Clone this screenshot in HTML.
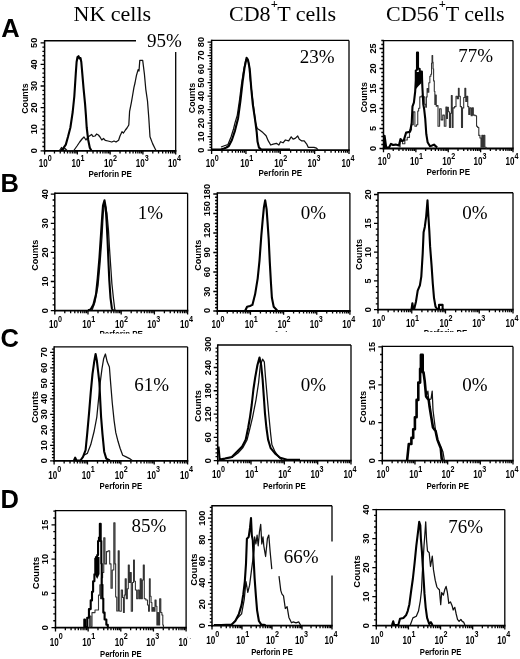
<!DOCTYPE html>
<html><head><meta charset="utf-8"><title>Figure</title>
<style>html,body{margin:0;padding:0;background:#fff;}svg{display:block;will-change:transform;}</style>
</head><body>
<svg width="520" height="659" viewBox="0 0 520 659">
<rect width="520" height="659" fill="#fff"/>
<text x="73.5" y="20.8" font-family="Liberation Serif" font-size="22">NK cells</text>
<text x="229.0" y="20.8" font-family="Liberation Serif" font-size="22">CD8<tspan font-size="12.5" font-weight="bold" dy="-12.5" dx="0.3">+</tspan><tspan dy="12.5" dx="-0.8">T cells</tspan></text>
<text x="386.0" y="20.8" font-family="Liberation Serif" font-size="22">CD56<tspan font-size="12.5" font-weight="bold" dy="-12.5" dx="0.3">+</tspan><tspan dy="12.5" dx="-0.3">T cells</tspan></text>
<text x="1.2" y="36.9" font-family="Liberation Sans" font-weight="bold" font-size="25.5">A</text>
<text x="0.4" y="191.9" font-family="Liberation Sans" font-weight="bold" font-size="25.5">B</text>
<text x="0.5" y="346.6" font-family="Liberation Sans" font-weight="bold" font-size="25.5">C</text>
<text x="0.5" y="507.8" font-family="Liberation Sans" font-weight="bold" font-size="25.5">D</text>
<line x1="44.6" y1="40.8" x2="136" y2="40.8" stroke="#000" stroke-width="1.4"/>
<line x1="175.7" y1="51.9" x2="175.7" y2="150.8" stroke="#000" stroke-width="1.3"/>
<line x1="44.6" y1="40.1" x2="44.6" y2="151.8" stroke="#000" stroke-width="1.5"/>
<line x1="43.8" y1="150.8" x2="176.4" y2="150.8" stroke="#000" stroke-width="1.8"/>
<path d="M40.6 150.8H44.6M42.4 146.48H44.6M42.4 142.16H44.6M42.4 137.84H44.6M42.4 133.52H44.6M40.6 129.2H44.6M42.4 124.88H44.6M42.4 120.56H44.6M42.4 116.24H44.6M42.4 111.92H44.6M40.6 107.6H44.6M42.4 103.28H44.6M42.4 98.96H44.6M42.4 94.64H44.6M42.4 90.32H44.6M40.6 86H44.6M42.4 81.68H44.6M42.4 77.36H44.6M42.4 73.04H44.6M42.4 68.72H44.6M40.6 64.4H44.6M42.4 60.08H44.6M42.4 55.76H44.6M42.4 51.44H44.6M42.4 47.12H44.6M40.6 42.8H44.6" stroke="#000" stroke-width="1.3" fill="none"/>
<text transform="translate(37.4,150.8) rotate(-90)" text-anchor="middle" font-family="Liberation Sans" font-weight="bold" font-size="9.2">0</text>
<text transform="translate(37.4,129.2) rotate(-90)" text-anchor="middle" font-family="Liberation Sans" font-weight="bold" font-size="9.2">10</text>
<text transform="translate(37.4,107.6) rotate(-90)" text-anchor="middle" font-family="Liberation Sans" font-weight="bold" font-size="9.2">20</text>
<text transform="translate(37.4,86) rotate(-90)" text-anchor="middle" font-family="Liberation Sans" font-weight="bold" font-size="9.2">30</text>
<text transform="translate(37.4,64.4) rotate(-90)" text-anchor="middle" font-family="Liberation Sans" font-weight="bold" font-size="9.2">40</text>
<text transform="translate(37.4,42.8) rotate(-90)" text-anchor="middle" font-family="Liberation Sans" font-weight="bold" font-size="9.2">50</text>
<text transform="translate(28.2,98.6) rotate(-90)" text-anchor="middle" font-family="Liberation Sans" font-weight="bold" font-size="9.4" textLength="30.4" lengthAdjust="spacingAndGlyphs">Counts</text>
<path d="M44.6 150.8V154.6M54.47 150.8V153.4M60.24 150.8V153.4M64.33 150.8V153.4M67.51 150.8V153.4M70.1 150.8V153.4M72.3 150.8V153.4M74.2 150.8V153.4M75.88 150.8V153.4M77.38 150.8V154.6M87.24 150.8V153.4M93.01 150.8V153.4M97.11 150.8V153.4M100.28 150.8V153.4M102.88 150.8V153.4M105.07 150.8V153.4M106.97 150.8V153.4M108.65 150.8V153.4M110.15 150.8V154.6M120.02 150.8V153.4M125.79 150.8V153.4M129.88 150.8V153.4M133.06 150.8V153.4M135.65 150.8V153.4M137.85 150.8V153.4M139.75 150.8V153.4M141.43 150.8V153.4M142.92 150.8V154.6M152.79 150.8V153.4M158.56 150.8V153.4M162.66 150.8V153.4M165.83 150.8V153.4M168.43 150.8V153.4M170.62 150.8V153.4M172.52 150.8V153.4M174.2 150.8V153.4M175.7 150.8V154.6" stroke="#000" stroke-width="1.3" fill="none"/>
<text x="47.8" y="167.4" text-anchor="end" font-family="Liberation Sans" font-weight="bold" font-size="10.2" textLength="9.0" lengthAdjust="spacingAndGlyphs">10</text>
<text x="47.8" y="161.4" font-family="Liberation Sans" font-weight="bold" font-size="8.2" textLength="4.0" lengthAdjust="spacingAndGlyphs">0</text>
<text x="80.58" y="167.4" text-anchor="end" font-family="Liberation Sans" font-weight="bold" font-size="10.2" textLength="9.0" lengthAdjust="spacingAndGlyphs">10</text>
<text x="80.58" y="161.4" font-family="Liberation Sans" font-weight="bold" font-size="8.2" textLength="4.0" lengthAdjust="spacingAndGlyphs">1</text>
<text x="113.05" y="167.4" text-anchor="end" font-family="Liberation Sans" font-weight="bold" font-size="10.2" textLength="9.0" lengthAdjust="spacingAndGlyphs">10</text>
<text x="113.05" y="161.4" font-family="Liberation Sans" font-weight="bold" font-size="8.2" textLength="4.0" lengthAdjust="spacingAndGlyphs">2</text>
<text x="144.82" y="167.4" text-anchor="end" font-family="Liberation Sans" font-weight="bold" font-size="10.2" textLength="9.0" lengthAdjust="spacingAndGlyphs">10</text>
<text x="144.82" y="161.4" font-family="Liberation Sans" font-weight="bold" font-size="8.2" textLength="4.0" lengthAdjust="spacingAndGlyphs">3</text>
<text x="177.1" y="167.4" text-anchor="end" font-family="Liberation Sans" font-weight="bold" font-size="10.2" textLength="9.0" lengthAdjust="spacingAndGlyphs">10</text>
<text x="177.1" y="161.4" font-family="Liberation Sans" font-weight="bold" font-size="8.2" textLength="4.0" lengthAdjust="spacingAndGlyphs">4</text>
<text x="110.15" y="177" text-anchor="middle" font-family="Liberation Sans" font-weight="bold" font-size="8.7" textLength="43.5" lengthAdjust="spacingAndGlyphs">Perforin PE</text>
<text x="146.9" y="46.6" font-family="Liberation Serif" font-size="19">95%</text>
<path d="M59.5 150.5 61.5 147.5 63 149.5 65 148.5 67 150.5 73.8 150.5 77 146 79.7 142 82 139 84 137 86 140 88 137 91.6 134.4 93 136.5 95 136 96.5 134 98.4 135 100 137 101.8 140 103.5 138.5 105.2 140.3 108 141 111.8 142 114 141 116 142 118.6 140.2 120 136 122 131.7 123.5 133 125.4 130 127 128 128.8 125 129.6 111.3 131.3 102.8 132.5 96 133.9 87.6 135 83 136.4 75.7 138.1 69.7 139 71 139.8 60.4 142.7 60.4 144.4 74 145.8 89.3 147.5 101 148.8 118 150 136.8 152.6 143.6 155.1 148.7 156 150.5" fill="none" stroke="#111" stroke-width="1.25" stroke-linejoin="round"/>
<path d="M61 150.5 62.7 149.2 65.8 144.6 68 136.8 70.4 127.5 72.7 112 74.3 96.5 75.8 73.3 76.6 62 77.5 57 78.5 56.2 79.5 58.5 80.5 58 81.3 62 82 70.2 83.6 88.8 85.1 104.3 85.9 115.1 86.7 127.5 88.2 140 89.8 147.7 91.3 150.5" fill="none" stroke="#000" stroke-width="2.1" stroke-linejoin="round"/>
<line x1="211.6" y1="40.4" x2="349" y2="40.4" stroke="#000" stroke-width="1.4"/>
<line x1="349" y1="40.4" x2="349" y2="150.1" stroke="#000" stroke-width="1.3"/>
<line x1="211.6" y1="39.7" x2="211.6" y2="151.1" stroke="#000" stroke-width="1.5"/>
<line x1="210.8" y1="150.1" x2="349.7" y2="150.1" stroke="#000" stroke-width="1.8"/>
<path d="M207.6 150.1H211.6M209.4 147.4H211.6M209.4 144.7H211.6M209.4 142H211.6M209.4 139.3H211.6M207.6 136.6H211.6M209.4 133.9H211.6M209.4 131.2H211.6M209.4 128.5H211.6M209.4 125.8H211.6M207.6 123.1H211.6M209.4 120.4H211.6M209.4 117.7H211.6M209.4 115H211.6M209.4 112.3H211.6M207.6 109.6H211.6M209.4 106.9H211.6M209.4 104.2H211.6M209.4 101.5H211.6M209.4 98.8H211.6M207.6 96.1H211.6M209.4 93.4H211.6M209.4 90.7H211.6M209.4 88H211.6M209.4 85.3H211.6M207.6 82.6H211.6M209.4 79.9H211.6M209.4 77.2H211.6M209.4 74.5H211.6M209.4 71.8H211.6M207.6 69.1H211.6M209.4 66.4H211.6M209.4 63.7H211.6M209.4 61H211.6M209.4 58.3H211.6M207.6 55.6H211.6M209.4 52.9H211.6M209.4 50.2H211.6M209.4 47.5H211.6M209.4 44.8H211.6M207.6 42.1H211.6" stroke="#000" stroke-width="1.3" fill="none"/>
<text transform="translate(204.4,150.1) rotate(-90)" text-anchor="middle" font-family="Liberation Sans" font-weight="bold" font-size="9.2">0</text>
<text transform="translate(204.4,136.6) rotate(-90)" text-anchor="middle" font-family="Liberation Sans" font-weight="bold" font-size="9.2">10</text>
<text transform="translate(204.4,123.1) rotate(-90)" text-anchor="middle" font-family="Liberation Sans" font-weight="bold" font-size="9.2">20</text>
<text transform="translate(204.4,109.6) rotate(-90)" text-anchor="middle" font-family="Liberation Sans" font-weight="bold" font-size="9.2">30</text>
<text transform="translate(204.4,96.1) rotate(-90)" text-anchor="middle" font-family="Liberation Sans" font-weight="bold" font-size="9.2">40</text>
<text transform="translate(204.4,82.6) rotate(-90)" text-anchor="middle" font-family="Liberation Sans" font-weight="bold" font-size="9.2">50</text>
<text transform="translate(204.4,69.1) rotate(-90)" text-anchor="middle" font-family="Liberation Sans" font-weight="bold" font-size="9.2">60</text>
<text transform="translate(204.4,55.6) rotate(-90)" text-anchor="middle" font-family="Liberation Sans" font-weight="bold" font-size="9.2">70</text>
<text transform="translate(204.4,42.1) rotate(-90)" text-anchor="middle" font-family="Liberation Sans" font-weight="bold" font-size="9.2">80</text>
<text transform="translate(195.2,98.05) rotate(-90)" text-anchor="middle" font-family="Liberation Sans" font-weight="bold" font-size="9.4" textLength="30.4" lengthAdjust="spacingAndGlyphs">Counts</text>
<path d="M211.6 150.1V153.9M221.94 150.1V152.7M227.99 150.1V152.7M232.28 150.1V152.7M235.61 150.1V152.7M238.33 150.1V152.7M240.63 150.1V152.7M242.62 150.1V152.7M244.38 150.1V152.7M245.95 150.1V153.9M256.29 150.1V152.7M262.34 150.1V152.7M266.63 150.1V152.7M269.96 150.1V152.7M272.68 150.1V152.7M274.98 150.1V152.7M276.97 150.1V152.7M278.73 150.1V152.7M280.3 150.1V153.9M290.64 150.1V152.7M296.69 150.1V152.7M300.98 150.1V152.7M304.31 150.1V152.7M307.03 150.1V152.7M309.33 150.1V152.7M311.32 150.1V152.7M313.08 150.1V152.7M314.65 150.1V153.9M324.99 150.1V152.7M331.04 150.1V152.7M335.33 150.1V152.7M338.66 150.1V152.7M341.38 150.1V152.7M343.68 150.1V152.7M345.67 150.1V152.7M347.43 150.1V152.7M349 150.1V153.9" stroke="#000" stroke-width="1.3" fill="none"/>
<text x="214.8" y="166.7" text-anchor="end" font-family="Liberation Sans" font-weight="bold" font-size="10.2" textLength="9.0" lengthAdjust="spacingAndGlyphs">10</text>
<text x="214.8" y="160.7" font-family="Liberation Sans" font-weight="bold" font-size="8.2" textLength="4.0" lengthAdjust="spacingAndGlyphs">0</text>
<text x="249.15" y="166.7" text-anchor="end" font-family="Liberation Sans" font-weight="bold" font-size="10.2" textLength="9.0" lengthAdjust="spacingAndGlyphs">10</text>
<text x="249.15" y="160.7" font-family="Liberation Sans" font-weight="bold" font-size="8.2" textLength="4.0" lengthAdjust="spacingAndGlyphs">1</text>
<text x="283.2" y="166.7" text-anchor="end" font-family="Liberation Sans" font-weight="bold" font-size="10.2" textLength="9.0" lengthAdjust="spacingAndGlyphs">10</text>
<text x="283.2" y="160.7" font-family="Liberation Sans" font-weight="bold" font-size="8.2" textLength="4.0" lengthAdjust="spacingAndGlyphs">2</text>
<text x="316.55" y="166.7" text-anchor="end" font-family="Liberation Sans" font-weight="bold" font-size="10.2" textLength="9.0" lengthAdjust="spacingAndGlyphs">10</text>
<text x="316.55" y="160.7" font-family="Liberation Sans" font-weight="bold" font-size="8.2" textLength="4.0" lengthAdjust="spacingAndGlyphs">3</text>
<text x="350.4" y="166.7" text-anchor="end" font-family="Liberation Sans" font-weight="bold" font-size="10.2" textLength="9.0" lengthAdjust="spacingAndGlyphs">10</text>
<text x="350.4" y="160.7" font-family="Liberation Sans" font-weight="bold" font-size="8.2" textLength="4.0" lengthAdjust="spacingAndGlyphs">4</text>
<text x="280.3" y="176.3" text-anchor="middle" font-family="Liberation Sans" font-weight="bold" font-size="8.7" textLength="43.5" lengthAdjust="spacingAndGlyphs">Perforin PE</text>
<text x="299.8" y="62.5" font-family="Liberation Serif" font-size="19">23%</text>
<path d="M221 147 225 145.5 228 144.6 231.1 136.8 233.5 129 235 122.9 237.3 115.1 239.5 100 241.5 84 243.7 70 245.8 60 247.5 58.5 249.1 64.5 249.6 74.2 251.5 90 253.5 106.6 255.6 122.8 257.2 128.5 259.6 130.1 262.9 132.6 266.1 135.8 268.3 140.9 270.7 145 273.2 144.1 276.4 143.3 278.9 145 280.5 141.7 283 142.8 285.4 140 288.7 140.9 291.2 136.8 293.1 139.2 295.2 138.4 297.7 136 299.3 139.2 301.8 140.9 304.2 140.9 306.7 144.1 308.3 147.4 314 147.4 316.5 148.2 318.1 150" fill="none" stroke="#111" stroke-width="1.25" stroke-linejoin="round"/>
<path d="M212 149.5 220.7 149.5 224 148.5 226.5 147.5 228.8 146 231.9 140 235 130.6 238.1 118.2 240.4 101.2 242.7 81 244.5 68 246.6 57.8 248 60 249.7 68.6 251.3 88.8 252.8 104.3 255.1 119.8 256.7 132.2 257.5 141.5 259 147.7 261.3 149.5 290 149.5" fill="none" stroke="#000" stroke-width="2.1" stroke-linejoin="round"/>
<line x1="383.5" y1="40.6" x2="513" y2="40.6" stroke="#000" stroke-width="1.4"/>
<line x1="513" y1="40.6" x2="513" y2="148.5" stroke="#000" stroke-width="1.3"/>
<line x1="383.5" y1="39.9" x2="383.5" y2="149.5" stroke="#000" stroke-width="1.5"/>
<line x1="382.7" y1="148.5" x2="513.7" y2="148.5" stroke="#000" stroke-width="1.8"/>
<path d="M379.5 148.5H383.5M381.3 144.5H383.5M381.3 140.5H383.5M381.3 136.5H383.5M381.3 132.5H383.5M379.5 128.5H383.5M381.3 124.5H383.5M381.3 120.5H383.5M381.3 116.5H383.5M381.3 112.5H383.5M379.5 108.5H383.5M381.3 104.5H383.5M381.3 100.5H383.5M381.3 96.5H383.5M381.3 92.5H383.5M379.5 88.5H383.5M381.3 84.5H383.5M381.3 80.5H383.5M381.3 76.5H383.5M381.3 72.5H383.5M379.5 68.5H383.5M381.3 64.5H383.5M381.3 60.5H383.5M381.3 56.5H383.5M381.3 52.5H383.5M379.5 48.5H383.5M381.3 44.5H383.5M381.3 40.5H383.5" stroke="#000" stroke-width="1.3" fill="none"/>
<text transform="translate(376.3,148.5) rotate(-90)" text-anchor="middle" font-family="Liberation Sans" font-weight="bold" font-size="9.2">0</text>
<text transform="translate(376.3,128.5) rotate(-90)" text-anchor="middle" font-family="Liberation Sans" font-weight="bold" font-size="9.2">5</text>
<text transform="translate(376.3,108.5) rotate(-90)" text-anchor="middle" font-family="Liberation Sans" font-weight="bold" font-size="9.2">10</text>
<text transform="translate(376.3,88.5) rotate(-90)" text-anchor="middle" font-family="Liberation Sans" font-weight="bold" font-size="9.2">15</text>
<text transform="translate(376.3,68.5) rotate(-90)" text-anchor="middle" font-family="Liberation Sans" font-weight="bold" font-size="9.2">20</text>
<text transform="translate(376.3,48.5) rotate(-90)" text-anchor="middle" font-family="Liberation Sans" font-weight="bold" font-size="9.2">25</text>
<text transform="translate(367.1,97.35) rotate(-90)" text-anchor="middle" font-family="Liberation Sans" font-weight="bold" font-size="9.4" textLength="30.4" lengthAdjust="spacingAndGlyphs">Counts</text>
<path d="M383.5 148.5V152.3M393.25 148.5V151.1M398.95 148.5V151.1M402.99 148.5V151.1M406.13 148.5V151.1M408.69 148.5V151.1M410.86 148.5V151.1M412.74 148.5V151.1M414.39 148.5V151.1M415.88 148.5V152.3M425.62 148.5V151.1M431.32 148.5V151.1M435.37 148.5V151.1M438.5 148.5V151.1M441.07 148.5V151.1M443.24 148.5V151.1M445.11 148.5V151.1M446.77 148.5V151.1M448.25 148.5V152.3M458 148.5V151.1M463.7 148.5V151.1M467.74 148.5V151.1M470.88 148.5V151.1M473.44 148.5V151.1M475.61 148.5V151.1M477.49 148.5V151.1M479.14 148.5V151.1M480.62 148.5V152.3M490.37 148.5V151.1M496.07 148.5V151.1M500.12 148.5V151.1M503.25 148.5V151.1M505.82 148.5V151.1M507.99 148.5V151.1M509.86 148.5V151.1M511.52 148.5V151.1M513 148.5V152.3" stroke="#000" stroke-width="1.3" fill="none"/>
<text x="386.7" y="165.1" text-anchor="end" font-family="Liberation Sans" font-weight="bold" font-size="10.2" textLength="9.0" lengthAdjust="spacingAndGlyphs">10</text>
<text x="386.7" y="159.1" font-family="Liberation Sans" font-weight="bold" font-size="8.2" textLength="4.0" lengthAdjust="spacingAndGlyphs">0</text>
<text x="419.07" y="165.1" text-anchor="end" font-family="Liberation Sans" font-weight="bold" font-size="10.2" textLength="9.0" lengthAdjust="spacingAndGlyphs">10</text>
<text x="419.07" y="159.1" font-family="Liberation Sans" font-weight="bold" font-size="8.2" textLength="4.0" lengthAdjust="spacingAndGlyphs">1</text>
<text x="451.15" y="165.1" text-anchor="end" font-family="Liberation Sans" font-weight="bold" font-size="10.2" textLength="9.0" lengthAdjust="spacingAndGlyphs">10</text>
<text x="451.15" y="159.1" font-family="Liberation Sans" font-weight="bold" font-size="8.2" textLength="4.0" lengthAdjust="spacingAndGlyphs">2</text>
<text x="482.52" y="165.1" text-anchor="end" font-family="Liberation Sans" font-weight="bold" font-size="10.2" textLength="9.0" lengthAdjust="spacingAndGlyphs">10</text>
<text x="482.52" y="159.1" font-family="Liberation Sans" font-weight="bold" font-size="8.2" textLength="4.0" lengthAdjust="spacingAndGlyphs">3</text>
<text x="514.4" y="165.1" text-anchor="end" font-family="Liberation Sans" font-weight="bold" font-size="10.2" textLength="9.0" lengthAdjust="spacingAndGlyphs">10</text>
<text x="514.4" y="159.1" font-family="Liberation Sans" font-weight="bold" font-size="8.2" textLength="4.0" lengthAdjust="spacingAndGlyphs">4</text>
<text x="448.25" y="174.7" text-anchor="middle" font-family="Liberation Sans" font-weight="bold" font-size="8.7" textLength="43.5" lengthAdjust="spacingAndGlyphs">Perforin PE</text>
<text x="458.3" y="61.8" font-family="Liberation Serif" font-size="19">77%</text>
<path d="M398.9 147 400.1 147 400.1 140.6 402.5 140.6 402.5 143.8 404.85 143.8 404.85 140 407.25 140 407.25 137.4 409.5 137.4 409.5 130 411.5 130 411.5 124.7 413.3 124.7 413.3 111.9 414.9 111.9 414.9 126.3 416.5 126.3 416.5 124.7 417.75 124.7 417.75 111 418.65 111 418.65 108.2 419.8 108.2 419.8 96.9 421.2 96.9 421.2 96 422.6 96 422.6 96.9 423.8 96.9 423.8 96.9 424.75 96.9 424.75 104.4 425.7 104.4 425.7 107.3 426.4 107.3 426.4 96.9 427.1 96.9 427.1 88.5 427.95 88.5 427.95 92.2 428.8 92.2 428.8 82.8 429.85 82.8 429.85 76.2 430.85 76.2 430.85 74.3 431.55 74.3 431.55 63 432.05 63 432.05 55.5 432.65 55.5 432.65 62.1 433.1 62.1 433.1 68.7 433.6 68.7 433.6 80.9 434.3 80.9 434.3 91.3 434.85 91.3 434.85 104.4 435.55 104.4 435.55 95 436.25 95 436.25 106.3 436.85 106.3 436.85 105.5 438 105.5 438 126.3 439.6 126.3 439.6 108.7 441.2 108.7 441.2 119.9 442.75 119.9 442.75 115.1 444.3 115.1 444.3 126.3 445.9 126.3 445.9 107.1 446.85 107.1 446.85 118.4 447.45 118.4 447.45 107.3 448.4 107.3 448.4 111.8 449.45 111.8 449.45 127.5 450.45 127.5 450.45 113.2 451.35 113.2 451.35 95.5 452.2 95.5 452.2 127.5 453.05 127.5 453.05 107.9 454.5 107.9 454.5 106.6 456 106.6 456 96.2 457.3 96.2 457.3 98.8 458.4 98.8 458.4 88.3 459.15 88.3 459.15 96.2 460.3 96.2 460.3 106.6 461.5 106.6 461.5 127.5 462.5 127.5 462.5 107.9 463.7 107.9 463.7 97.5 464.85 97.5 464.85 88.3 465.75 88.3 465.75 101.4 466.7 101.4 466.7 96.2 467.75 96.2 467.75 106.6 468.75 106.6 468.75 114.5 469.85 114.5 469.85 107.9 471.15 107.9 471.15 115.8 472.25 115.8 472.25 107.9 473.35 107.9 473.35 115.1 475.05 115.1 475.05 115.8 476.55 115.8 476.55 126.2 477.65 126.2 477.65 127.5 478.8 127.5 478.8 135.4 479.95 135.4 479.95 138 481 138 481 147.2 481.85 147.2 481.85 135.4 482.75 135.4 482.75 147.2 483.7 147.2 483.7 135.4 484.85 135.4 484.85 147.2 486.15 147.2 486.15 148 486.8 148" fill="none" stroke="#333" stroke-width="1.1" stroke-linejoin="round"/>
<path d="M384 148 384.6 135.8 386.2 147.5 389 147.5 391 143.8 393 145 395.7 144.6 398.9 145.4 400.5 139 402 141 403.7 140.6 406.1 132.6 410.1 131.8 411.7 123 412.5 106.3 413.9 102.6 415.2 91.3 415.8 80 415.8 70.6 417 69.6 417 52.5 418 52.5 418 68.7 419.6 68.7 419.9 72.5 420.8 72.5 421.2 71.5 421.9 71.5 422.1 80 422.4 87.5 422.9 96.9 423.3 104.4 424.1 108.7 425.2 118.3 426.3 134.2 427.6 142.2 430 146.2 432 145.5 434 144.6 437.2 147.5" fill="none" stroke="#000" stroke-width="2.1" stroke-linejoin="round"/>
<path d="M416 72 421.5 72 421.5 83 418.5 86 416 89" fill="#000" stroke="none"/>
<line x1="54.8" y1="193.2" x2="187.6" y2="193.2" stroke="#000" stroke-width="1.4"/>
<line x1="187.6" y1="193.2" x2="187.6" y2="310.6" stroke="#000" stroke-width="1.3"/>
<line x1="54.8" y1="192.5" x2="54.8" y2="311.6" stroke="#000" stroke-width="1.5"/>
<line x1="54" y1="310.6" x2="188.3" y2="310.6" stroke="#000" stroke-width="1.8"/>
<path d="M50.8 310.6H54.8M52.6 304.78H54.8M52.6 298.96H54.8M52.6 293.14H54.8M52.6 287.32H54.8M50.8 281.5H54.8M52.6 275.68H54.8M52.6 269.86H54.8M52.6 264.04H54.8M52.6 258.22H54.8M50.8 252.4H54.8M52.6 246.58H54.8M52.6 240.76H54.8M52.6 234.94H54.8M52.6 229.12H54.8M50.8 223.3H54.8M52.6 217.48H54.8M52.6 211.66H54.8M52.6 205.84H54.8M52.6 200.02H54.8M50.8 194.2H54.8" stroke="#000" stroke-width="1.3" fill="none"/>
<text transform="translate(47.6,310.6) rotate(-90)" text-anchor="middle" font-family="Liberation Sans" font-weight="bold" font-size="9.2">0</text>
<text transform="translate(47.6,281.5) rotate(-90)" text-anchor="middle" font-family="Liberation Sans" font-weight="bold" font-size="9.2">10</text>
<text transform="translate(47.6,252.4) rotate(-90)" text-anchor="middle" font-family="Liberation Sans" font-weight="bold" font-size="9.2">20</text>
<text transform="translate(47.6,223.3) rotate(-90)" text-anchor="middle" font-family="Liberation Sans" font-weight="bold" font-size="9.2">30</text>
<text transform="translate(47.6,194.2) rotate(-90)" text-anchor="middle" font-family="Liberation Sans" font-weight="bold" font-size="9.2">40</text>
<text transform="translate(38.4,255.2) rotate(-90)" text-anchor="middle" font-family="Liberation Sans" font-weight="bold" font-size="9.4" textLength="31.0" lengthAdjust="spacingAndGlyphs">Counts</text>
<path d="M54.8 310.6V314.4M64.79 310.6V313.2M70.64 310.6V313.2M74.79 310.6V313.2M78.01 310.6V313.2M80.63 310.6V313.2M82.86 310.6V313.2M84.78 310.6V313.2M86.48 310.6V313.2M88 310.6V314.4M97.99 310.6V313.2M103.84 310.6V313.2M107.99 310.6V313.2M111.21 310.6V313.2M113.83 310.6V313.2M116.06 310.6V313.2M117.98 310.6V313.2M119.68 310.6V313.2M121.2 310.6V314.4M131.19 310.6V313.2M137.04 310.6V313.2M141.19 310.6V313.2M144.41 310.6V313.2M147.03 310.6V313.2M149.26 310.6V313.2M151.18 310.6V313.2M152.88 310.6V313.2M154.4 310.6V314.4M164.39 310.6V313.2M170.24 310.6V313.2M174.39 310.6V313.2M177.61 310.6V313.2M180.23 310.6V313.2M182.46 310.6V313.2M184.38 310.6V313.2M186.08 310.6V313.2M187.6 310.6V314.4" stroke="#000" stroke-width="1.3" fill="none"/>
<text x="58" y="327.7" text-anchor="end" font-family="Liberation Sans" font-weight="bold" font-size="10.2" textLength="9.0" lengthAdjust="spacingAndGlyphs">10</text>
<text x="58" y="321.5" font-family="Liberation Sans" font-weight="bold" font-size="8.2" textLength="4.0" lengthAdjust="spacingAndGlyphs">0</text>
<text x="91.2" y="327.7" text-anchor="end" font-family="Liberation Sans" font-weight="bold" font-size="10.2" textLength="9.0" lengthAdjust="spacingAndGlyphs">10</text>
<text x="91.2" y="321.5" font-family="Liberation Sans" font-weight="bold" font-size="8.2" textLength="4.0" lengthAdjust="spacingAndGlyphs">1</text>
<text x="124.1" y="327.7" text-anchor="end" font-family="Liberation Sans" font-weight="bold" font-size="10.2" textLength="9.0" lengthAdjust="spacingAndGlyphs">10</text>
<text x="124.1" y="321.5" font-family="Liberation Sans" font-weight="bold" font-size="8.2" textLength="4.0" lengthAdjust="spacingAndGlyphs">2</text>
<text x="156.3" y="327.7" text-anchor="end" font-family="Liberation Sans" font-weight="bold" font-size="10.2" textLength="9.0" lengthAdjust="spacingAndGlyphs">10</text>
<text x="156.3" y="321.5" font-family="Liberation Sans" font-weight="bold" font-size="8.2" textLength="4.0" lengthAdjust="spacingAndGlyphs">3</text>
<text x="189" y="327.7" text-anchor="end" font-family="Liberation Sans" font-weight="bold" font-size="10.2" textLength="9.0" lengthAdjust="spacingAndGlyphs">10</text>
<text x="189" y="321.5" font-family="Liberation Sans" font-weight="bold" font-size="8.2" textLength="4.0" lengthAdjust="spacingAndGlyphs">4</text>
<text x="121.2" y="337.2" text-anchor="middle" font-family="Liberation Sans" font-weight="bold" font-size="8.9" textLength="43.5" lengthAdjust="spacingAndGlyphs">Perforin PE</text>
<text x="137.8" y="218.8" font-family="Liberation Serif" font-size="19">1%</text>
<path d="M92 310.2 95 302 98 286 100 264 102 237 103.2 214 104.8 203 106.9 212.8 108.5 230.5 109.5 248.3 110.7 266 111.9 283.8 113.4 298 114.8 309.6 115.5 310.2" fill="none" stroke="#111" stroke-width="1.25" stroke-linejoin="round"/>
<path d="M88 310.2 90.6 309.5 93.3 304.9 96 294.3 97.7 278.3 99.5 257 100.9 235.8 102.2 216.3 103 205.6 104.5 200.3 105.7 207.4 106.6 221.6 107.5 239.3 108.4 260.6 109.3 280.1 110.5 297.8 111.9 308.5 113 310.2" fill="none" stroke="#000" stroke-width="2.1" stroke-linejoin="round"/>
<line x1="217.3" y1="193" x2="349.9" y2="193" stroke="#000" stroke-width="1.4"/>
<line x1="349.9" y1="193" x2="349.9" y2="311" stroke="#000" stroke-width="1.3"/>
<line x1="217.3" y1="192.3" x2="217.3" y2="312" stroke="#000" stroke-width="1.5"/>
<line x1="216.5" y1="311" x2="350.6" y2="311" stroke="#000" stroke-width="1.8"/>
<path d="M213.3 311H217.3M215.1 307.75H217.3M215.1 304.5H217.3M215.1 301.25H217.3M215.1 298H217.3M215.1 294.75H217.3M213.3 291.5H217.3M215.1 288.25H217.3M215.1 285H217.3M215.1 281.75H217.3M215.1 278.5H217.3M215.1 275.25H217.3M213.3 272H217.3M215.1 268.75H217.3M215.1 265.5H217.3M215.1 262.25H217.3M215.1 259H217.3M215.1 255.75H217.3M213.3 252.5H217.3M215.1 249.25H217.3M215.1 246H217.3M215.1 242.75H217.3M215.1 239.5H217.3M215.1 236.25H217.3M213.3 233H217.3M215.1 229.75H217.3M215.1 226.5H217.3M215.1 223.25H217.3M215.1 220H217.3M215.1 216.75H217.3M213.3 213.5H217.3M215.1 210.25H217.3M215.1 207H217.3M215.1 203.75H217.3M215.1 200.5H217.3M215.1 197.25H217.3M213.3 194H217.3" stroke="#000" stroke-width="1.3" fill="none"/>
<text transform="translate(210.1,310.4) rotate(-90)" text-anchor="middle" font-family="Liberation Sans" font-weight="bold" font-size="9.2">0</text>
<text transform="translate(210.1,291.7) rotate(-90)" text-anchor="middle" font-family="Liberation Sans" font-weight="bold" font-size="9.2">30</text>
<text transform="translate(210.1,272.1) rotate(-90)" text-anchor="middle" font-family="Liberation Sans" font-weight="bold" font-size="9.2">60</text>
<text transform="translate(210.1,252.3) rotate(-90)" text-anchor="middle" font-family="Liberation Sans" font-weight="bold" font-size="9.2">90</text>
<text transform="translate(210.1,230.2) rotate(-90)" text-anchor="middle" font-family="Liberation Sans" font-weight="bold" font-size="9.2">120</text>
<text transform="translate(210.1,208.7) rotate(-90)" text-anchor="middle" font-family="Liberation Sans" font-weight="bold" font-size="9.2">150</text>
<text transform="translate(210.1,191.6) rotate(-90)" text-anchor="middle" font-family="Liberation Sans" font-weight="bold" font-size="9.2">180</text>
<text transform="translate(200.9,255.3) rotate(-90)" text-anchor="middle" font-family="Liberation Sans" font-weight="bold" font-size="9.4" textLength="31.0" lengthAdjust="spacingAndGlyphs">Counts</text>
<path d="M217.3 311V314.8M227.28 311V313.6M233.12 311V313.6M237.26 311V313.6M240.47 311V313.6M243.1 311V313.6M245.32 311V313.6M247.24 311V313.6M248.93 311V313.6M250.45 311V314.8M260.43 311V313.6M266.27 311V313.6M270.41 311V313.6M273.62 311V313.6M276.25 311V313.6M278.47 311V313.6M280.39 311V313.6M282.08 311V313.6M283.6 311V314.8M293.58 311V313.6M299.42 311V313.6M303.56 311V313.6M306.77 311V313.6M309.4 311V313.6M311.62 311V313.6M313.54 311V313.6M315.23 311V313.6M316.75 311V314.8M326.73 311V313.6M332.57 311V313.6M336.71 311V313.6M339.92 311V313.6M342.55 311V313.6M344.77 311V313.6M346.69 311V313.6M348.38 311V313.6M349.9 311V314.8" stroke="#000" stroke-width="1.3" fill="none"/>
<text x="220.5" y="328.1" text-anchor="end" font-family="Liberation Sans" font-weight="bold" font-size="10.2" textLength="9.0" lengthAdjust="spacingAndGlyphs">10</text>
<text x="220.5" y="321.9" font-family="Liberation Sans" font-weight="bold" font-size="8.2" textLength="4.0" lengthAdjust="spacingAndGlyphs">0</text>
<text x="253.65" y="328.1" text-anchor="end" font-family="Liberation Sans" font-weight="bold" font-size="10.2" textLength="9.0" lengthAdjust="spacingAndGlyphs">10</text>
<text x="253.65" y="321.9" font-family="Liberation Sans" font-weight="bold" font-size="8.2" textLength="4.0" lengthAdjust="spacingAndGlyphs">1</text>
<text x="286.5" y="328.1" text-anchor="end" font-family="Liberation Sans" font-weight="bold" font-size="10.2" textLength="9.0" lengthAdjust="spacingAndGlyphs">10</text>
<text x="286.5" y="321.9" font-family="Liberation Sans" font-weight="bold" font-size="8.2" textLength="4.0" lengthAdjust="spacingAndGlyphs">2</text>
<text x="318.65" y="328.1" text-anchor="end" font-family="Liberation Sans" font-weight="bold" font-size="10.2" textLength="9.0" lengthAdjust="spacingAndGlyphs">10</text>
<text x="318.65" y="321.9" font-family="Liberation Sans" font-weight="bold" font-size="8.2" textLength="4.0" lengthAdjust="spacingAndGlyphs">3</text>
<text x="351.3" y="328.1" text-anchor="end" font-family="Liberation Sans" font-weight="bold" font-size="10.2" textLength="9.0" lengthAdjust="spacingAndGlyphs">10</text>
<text x="351.3" y="321.9" font-family="Liberation Sans" font-weight="bold" font-size="8.2" textLength="4.0" lengthAdjust="spacingAndGlyphs">4</text>
<text x="283.6" y="337.6" text-anchor="middle" font-family="Liberation Sans" font-weight="bold" font-size="8.9" textLength="43.5" lengthAdjust="spacingAndGlyphs">Perforin PE</text>
<text x="300.8" y="219" font-family="Liberation Serif" font-size="19">0%</text>
<path d="M245.3 310.5 247.1 306.7 250 306 252.4 304.9 255.1 294.3 257.7 278.3 259.5 260.6 261.3 235.8 262.7 219.8 263.9 207.4 265.2 200.3 266.6 209.2 267.5 221.6 268.7 239.3 269.8 262.4 271 283.7 271.9 297.8 273.7 306.7 277.2 310.5" fill="none" stroke="#000" stroke-width="2.1" stroke-linejoin="round"/>
<line x1="378" y1="192.8" x2="513" y2="192.8" stroke="#000" stroke-width="1.4"/>
<line x1="513" y1="192.8" x2="513" y2="309.7" stroke="#000" stroke-width="1.3"/>
<line x1="378" y1="192.1" x2="378" y2="310.7" stroke="#000" stroke-width="1.5"/>
<line x1="377.2" y1="309.7" x2="513.7" y2="309.7" stroke="#000" stroke-width="1.8"/>
<path d="M374 309.7H378M375.8 303.94H378M375.8 298.18H378M375.8 292.42H378M375.8 286.66H378M374 280.9H378M375.8 275.14H378M375.8 269.38H378M375.8 263.62H378M375.8 257.86H378M374 252.1H378M375.8 246.34H378M375.8 240.58H378M375.8 234.82H378M375.8 229.06H378M374 223.3H378M375.8 217.54H378M375.8 211.78H378M375.8 206.02H378M375.8 200.26H378M374 194.5H378" stroke="#000" stroke-width="1.3" fill="none"/>
<text transform="translate(370.8,309.7) rotate(-90)" text-anchor="middle" font-family="Liberation Sans" font-weight="bold" font-size="9.2">0</text>
<text transform="translate(370.8,280.9) rotate(-90)" text-anchor="middle" font-family="Liberation Sans" font-weight="bold" font-size="9.2">5</text>
<text transform="translate(370.8,252.1) rotate(-90)" text-anchor="middle" font-family="Liberation Sans" font-weight="bold" font-size="9.2">10</text>
<text transform="translate(370.8,223.3) rotate(-90)" text-anchor="middle" font-family="Liberation Sans" font-weight="bold" font-size="9.2">15</text>
<text transform="translate(370.8,194.5) rotate(-90)" text-anchor="middle" font-family="Liberation Sans" font-weight="bold" font-size="9.2">20</text>
<text transform="translate(361.6,254.55) rotate(-90)" text-anchor="middle" font-family="Liberation Sans" font-weight="bold" font-size="9.4" textLength="31.0" lengthAdjust="spacingAndGlyphs">Counts</text>
<path d="M378 309.7V313.5M388.16 309.7V312.3M394.1 309.7V312.3M398.32 309.7V312.3M401.59 309.7V312.3M404.26 309.7V312.3M406.52 309.7V312.3M408.48 309.7V312.3M410.21 309.7V312.3M411.75 309.7V313.5M421.91 309.7V312.3M427.85 309.7V312.3M432.07 309.7V312.3M435.34 309.7V312.3M438.01 309.7V312.3M440.27 309.7V312.3M442.23 309.7V312.3M443.96 309.7V312.3M445.5 309.7V313.5M455.66 309.7V312.3M461.6 309.7V312.3M465.82 309.7V312.3M469.09 309.7V312.3M471.76 309.7V312.3M474.02 309.7V312.3M475.98 309.7V312.3M477.71 309.7V312.3M479.25 309.7V313.5M489.41 309.7V312.3M495.35 309.7V312.3M499.57 309.7V312.3M502.84 309.7V312.3M505.51 309.7V312.3M507.77 309.7V312.3M509.73 309.7V312.3M511.46 309.7V312.3M513 309.7V313.5" stroke="#000" stroke-width="1.3" fill="none"/>
<text x="381.2" y="326.8" text-anchor="end" font-family="Liberation Sans" font-weight="bold" font-size="10.2" textLength="9.0" lengthAdjust="spacingAndGlyphs">10</text>
<text x="381.2" y="320.6" font-family="Liberation Sans" font-weight="bold" font-size="8.2" textLength="4.0" lengthAdjust="spacingAndGlyphs">0</text>
<text x="414.95" y="326.8" text-anchor="end" font-family="Liberation Sans" font-weight="bold" font-size="10.2" textLength="9.0" lengthAdjust="spacingAndGlyphs">10</text>
<text x="414.95" y="320.6" font-family="Liberation Sans" font-weight="bold" font-size="8.2" textLength="4.0" lengthAdjust="spacingAndGlyphs">1</text>
<text x="448.4" y="326.8" text-anchor="end" font-family="Liberation Sans" font-weight="bold" font-size="10.2" textLength="9.0" lengthAdjust="spacingAndGlyphs">10</text>
<text x="448.4" y="320.6" font-family="Liberation Sans" font-weight="bold" font-size="8.2" textLength="4.0" lengthAdjust="spacingAndGlyphs">2</text>
<text x="481.15" y="326.8" text-anchor="end" font-family="Liberation Sans" font-weight="bold" font-size="10.2" textLength="9.0" lengthAdjust="spacingAndGlyphs">10</text>
<text x="481.15" y="320.6" font-family="Liberation Sans" font-weight="bold" font-size="8.2" textLength="4.0" lengthAdjust="spacingAndGlyphs">3</text>
<text x="514.4" y="326.8" text-anchor="end" font-family="Liberation Sans" font-weight="bold" font-size="10.2" textLength="9.0" lengthAdjust="spacingAndGlyphs">10</text>
<text x="514.4" y="320.6" font-family="Liberation Sans" font-weight="bold" font-size="8.2" textLength="4.0" lengthAdjust="spacingAndGlyphs">4</text>
<text x="445.5" y="336.3" text-anchor="middle" font-family="Liberation Sans" font-weight="bold" font-size="8.9" textLength="43.5" lengthAdjust="spacingAndGlyphs">Perforin PE</text>
<text x="462.3" y="219" font-family="Liberation Serif" font-size="19">0%</text>
<path d="M411.5 309.5 412.4 303.2 413.2 309 414.2 309 416 301.4 417.7 290.7 419.9 285.4 421.3 276.6 422.7 253.5 423.6 232.2 424.8 226.9 426.2 216.3 427.5 200.3 428.4 216.3 429.3 230.5 430.1 246.4 431.6 265.9 432.8 283.7 434 297.8 435.5 306.7 437.2 309 439 309 439 304.9 442.6 304.9 442.6 309.5 444 309.5" fill="none" stroke="#000" stroke-width="2.1" stroke-linejoin="round"/>
<line x1="54.1" y1="346.9" x2="187.6" y2="346.9" stroke="#000" stroke-width="1.4"/>
<line x1="187.6" y1="346.9" x2="187.6" y2="460.8" stroke="#000" stroke-width="1.3"/>
<line x1="54.1" y1="346.2" x2="54.1" y2="461.8" stroke="#000" stroke-width="1.5"/>
<line x1="53.3" y1="460.8" x2="188.3" y2="460.8" stroke="#000" stroke-width="1.8"/>
<path d="M50.1 460.8H54.1M51.9 457.7H54.1M51.9 454.6H54.1M51.9 451.5H54.1M51.9 448.4H54.1M50.1 445.3H54.1M51.9 442.2H54.1M51.9 439.1H54.1M51.9 436H54.1M51.9 432.9H54.1M50.1 429.8H54.1M51.9 426.7H54.1M51.9 423.6H54.1M51.9 420.5H54.1M51.9 417.4H54.1M50.1 414.3H54.1M51.9 411.2H54.1M51.9 408.1H54.1M51.9 405H54.1M51.9 401.9H54.1M50.1 398.8H54.1M51.9 395.7H54.1M51.9 392.6H54.1M51.9 389.5H54.1M51.9 386.4H54.1M50.1 383.3H54.1M51.9 380.2H54.1M51.9 377.1H54.1M51.9 374H54.1M51.9 370.9H54.1M50.1 367.8H54.1M51.9 364.7H54.1M51.9 361.6H54.1M51.9 358.5H54.1M51.9 355.4H54.1M50.1 352.3H54.1M51.9 349.2H54.1" stroke="#000" stroke-width="1.3" fill="none"/>
<text transform="translate(46.9,460.8) rotate(-90)" text-anchor="middle" font-family="Liberation Sans" font-weight="bold" font-size="9.2">0</text>
<text transform="translate(46.9,445.3) rotate(-90)" text-anchor="middle" font-family="Liberation Sans" font-weight="bold" font-size="9.2">10</text>
<text transform="translate(46.9,429.8) rotate(-90)" text-anchor="middle" font-family="Liberation Sans" font-weight="bold" font-size="9.2">20</text>
<text transform="translate(46.9,414.3) rotate(-90)" text-anchor="middle" font-family="Liberation Sans" font-weight="bold" font-size="9.2">30</text>
<text transform="translate(46.9,398.8) rotate(-90)" text-anchor="middle" font-family="Liberation Sans" font-weight="bold" font-size="9.2">40</text>
<text transform="translate(46.9,383.3) rotate(-90)" text-anchor="middle" font-family="Liberation Sans" font-weight="bold" font-size="9.2">50</text>
<text transform="translate(46.9,367.8) rotate(-90)" text-anchor="middle" font-family="Liberation Sans" font-weight="bold" font-size="9.2">60</text>
<text transform="translate(46.9,352.3) rotate(-90)" text-anchor="middle" font-family="Liberation Sans" font-weight="bold" font-size="9.2">70</text>
<text transform="translate(37.7,407.05) rotate(-90)" text-anchor="middle" font-family="Liberation Sans" font-weight="bold" font-size="9.4" textLength="32.0" lengthAdjust="spacingAndGlyphs">Counts</text>
<path d="M54.1 460.8V464.6M64.15 460.8V463.4M70.02 460.8V463.4M74.19 460.8V463.4M77.43 460.8V463.4M80.07 460.8V463.4M82.31 460.8V463.4M84.24 460.8V463.4M85.95 460.8V463.4M87.47 460.8V464.6M97.52 460.8V463.4M103.4 460.8V463.4M107.57 460.8V463.4M110.8 460.8V463.4M113.45 460.8V463.4M115.68 460.8V463.4M117.62 460.8V463.4M119.32 460.8V463.4M120.85 460.8V464.6M130.9 460.8V463.4M136.77 460.8V463.4M140.94 460.8V463.4M144.18 460.8V463.4M146.82 460.8V463.4M149.06 460.8V463.4M150.99 460.8V463.4M152.7 460.8V463.4M154.22 460.8V464.6M164.27 460.8V463.4M170.15 460.8V463.4M174.32 460.8V463.4M177.55 460.8V463.4M180.2 460.8V463.4M182.43 460.8V463.4M184.37 460.8V463.4M186.07 460.8V463.4M187.6 460.8V464.6" stroke="#000" stroke-width="1.3" fill="none"/>
<text x="57.3" y="478.6" text-anchor="end" font-family="Liberation Sans" font-weight="bold" font-size="10.2" textLength="9.0" lengthAdjust="spacingAndGlyphs">10</text>
<text x="57.3" y="472.1" font-family="Liberation Sans" font-weight="bold" font-size="8.2" textLength="4.0" lengthAdjust="spacingAndGlyphs">0</text>
<text x="90.67" y="478.6" text-anchor="end" font-family="Liberation Sans" font-weight="bold" font-size="10.2" textLength="9.0" lengthAdjust="spacingAndGlyphs">10</text>
<text x="90.67" y="472.1" font-family="Liberation Sans" font-weight="bold" font-size="8.2" textLength="4.0" lengthAdjust="spacingAndGlyphs">1</text>
<text x="123.75" y="478.6" text-anchor="end" font-family="Liberation Sans" font-weight="bold" font-size="10.2" textLength="9.0" lengthAdjust="spacingAndGlyphs">10</text>
<text x="123.75" y="472.1" font-family="Liberation Sans" font-weight="bold" font-size="8.2" textLength="4.0" lengthAdjust="spacingAndGlyphs">2</text>
<text x="156.12" y="478.6" text-anchor="end" font-family="Liberation Sans" font-weight="bold" font-size="10.2" textLength="9.0" lengthAdjust="spacingAndGlyphs">10</text>
<text x="156.12" y="472.1" font-family="Liberation Sans" font-weight="bold" font-size="8.2" textLength="4.0" lengthAdjust="spacingAndGlyphs">3</text>
<text x="189" y="478.6" text-anchor="end" font-family="Liberation Sans" font-weight="bold" font-size="10.2" textLength="9.0" lengthAdjust="spacingAndGlyphs">10</text>
<text x="189" y="472.1" font-family="Liberation Sans" font-weight="bold" font-size="8.2" textLength="4.0" lengthAdjust="spacingAndGlyphs">4</text>
<text x="120.85" y="489.4" text-anchor="middle" font-family="Liberation Sans" font-weight="bold" font-size="9.6" textLength="42.5" lengthAdjust="spacingAndGlyphs">Perforin PE</text>
<text x="134.3" y="391" font-family="Liberation Serif" font-size="19">61%</text>
<path d="M83.8 455.2 87.3 453.4 90.7 444.8 94.2 431 96.8 417.1 98.5 399.8 100.2 382.6 102 368.7 103.7 358.4 105.4 354 107.2 361.8 109.4 367 110.6 382.6 112.3 403.3 114.1 420.6 115.8 432.7 118 441.3 120.1 448.2 122.7 455.2 126.2 456.9 129.6 458.6 132.2 460.5" fill="none" stroke="#111" stroke-width="1.25" stroke-linejoin="round"/>
<path d="M74 460.5 75.2 457.6 76.5 460.5 80.4 460.5 83 456.9 85.6 450 87.3 432.7 89 413.7 90.7 392.9 92.5 373.9 94.2 361.8 95.6 354 96.8 360.1 98 370.5 99.4 382.6 100.2 399.8 101.1 417.1 102.5 434.4 104.2 451.7 106.3 458.6 109.8 460.5" fill="none" stroke="#000" stroke-width="2.1" stroke-linejoin="round"/>
<line x1="217.7" y1="345" x2="351" y2="345" stroke="#000" stroke-width="1.4"/>
<line x1="351" y1="345" x2="351" y2="460.6" stroke="#000" stroke-width="1.3"/>
<line x1="217.7" y1="344.3" x2="217.7" y2="461.6" stroke="#000" stroke-width="1.5"/>
<line x1="216.9" y1="460.6" x2="351.7" y2="460.6" stroke="#000" stroke-width="1.8"/>
<path d="M213.7 460.6H217.7M215.5 456.72H217.7M215.5 452.84H217.7M215.5 448.96H217.7M215.5 445.08H217.7M215.5 441.2H217.7M213.7 437.32H217.7M215.5 433.44H217.7M215.5 429.56H217.7M215.5 425.68H217.7M215.5 421.8H217.7M215.5 417.92H217.7M213.7 414.04H217.7M215.5 410.16H217.7M215.5 406.28H217.7M215.5 402.4H217.7M215.5 398.52H217.7M215.5 394.64H217.7M213.7 390.76H217.7M215.5 386.88H217.7M215.5 383H217.7M215.5 379.12H217.7M215.5 375.24H217.7M215.5 371.36H217.7M213.7 367.48H217.7M215.5 363.6H217.7M215.5 359.72H217.7M215.5 355.84H217.7M215.5 351.96H217.7M215.5 348.08H217.7" stroke="#000" stroke-width="1.3" fill="none"/>
<text transform="translate(210.5,460.6) rotate(-90)" text-anchor="middle" font-family="Liberation Sans" font-weight="bold" font-size="9.2">0</text>
<text transform="translate(210.5,437.32) rotate(-90)" text-anchor="middle" font-family="Liberation Sans" font-weight="bold" font-size="9.2">60</text>
<text transform="translate(210.5,414.04) rotate(-90)" text-anchor="middle" font-family="Liberation Sans" font-weight="bold" font-size="9.2">120</text>
<text transform="translate(210.5,390.76) rotate(-90)" text-anchor="middle" font-family="Liberation Sans" font-weight="bold" font-size="9.2">180</text>
<text transform="translate(210.5,367.48) rotate(-90)" text-anchor="middle" font-family="Liberation Sans" font-weight="bold" font-size="9.2">240</text>
<text transform="translate(210.5,344.2) rotate(-90)" text-anchor="middle" font-family="Liberation Sans" font-weight="bold" font-size="9.2">300</text>
<text transform="translate(201.3,406) rotate(-90)" text-anchor="middle" font-family="Liberation Sans" font-weight="bold" font-size="9.4" textLength="32.0" lengthAdjust="spacingAndGlyphs">Counts</text>
<path d="M217.7 460.6V464.4M227.73 460.6V463.2M233.6 460.6V463.2M237.76 460.6V463.2M240.99 460.6V463.2M243.63 460.6V463.2M245.86 460.6V463.2M247.8 460.6V463.2M249.5 460.6V463.2M251.02 460.6V464.4M261.06 460.6V463.2M266.93 460.6V463.2M271.09 460.6V463.2M274.32 460.6V463.2M276.96 460.6V463.2M279.19 460.6V463.2M281.12 460.6V463.2M282.83 460.6V463.2M284.35 460.6V464.4M294.38 460.6V463.2M300.25 460.6V463.2M304.41 460.6V463.2M307.64 460.6V463.2M310.28 460.6V463.2M312.51 460.6V463.2M314.45 460.6V463.2M316.15 460.6V463.2M317.68 460.6V464.4M327.71 460.6V463.2M333.58 460.6V463.2M337.74 460.6V463.2M340.97 460.6V463.2M343.61 460.6V463.2M345.84 460.6V463.2M347.77 460.6V463.2M349.48 460.6V463.2M351 460.6V464.4" stroke="#000" stroke-width="1.3" fill="none"/>
<text x="220.9" y="478.4" text-anchor="end" font-family="Liberation Sans" font-weight="bold" font-size="10.2" textLength="9.0" lengthAdjust="spacingAndGlyphs">10</text>
<text x="220.9" y="471.9" font-family="Liberation Sans" font-weight="bold" font-size="8.2" textLength="4.0" lengthAdjust="spacingAndGlyphs">0</text>
<text x="254.22" y="478.4" text-anchor="end" font-family="Liberation Sans" font-weight="bold" font-size="10.2" textLength="9.0" lengthAdjust="spacingAndGlyphs">10</text>
<text x="254.22" y="471.9" font-family="Liberation Sans" font-weight="bold" font-size="8.2" textLength="4.0" lengthAdjust="spacingAndGlyphs">1</text>
<text x="287.25" y="478.4" text-anchor="end" font-family="Liberation Sans" font-weight="bold" font-size="10.2" textLength="9.0" lengthAdjust="spacingAndGlyphs">10</text>
<text x="287.25" y="471.9" font-family="Liberation Sans" font-weight="bold" font-size="8.2" textLength="4.0" lengthAdjust="spacingAndGlyphs">2</text>
<text x="319.57" y="478.4" text-anchor="end" font-family="Liberation Sans" font-weight="bold" font-size="10.2" textLength="9.0" lengthAdjust="spacingAndGlyphs">10</text>
<text x="319.57" y="471.9" font-family="Liberation Sans" font-weight="bold" font-size="8.2" textLength="4.0" lengthAdjust="spacingAndGlyphs">3</text>
<text x="352.4" y="478.4" text-anchor="end" font-family="Liberation Sans" font-weight="bold" font-size="10.2" textLength="9.0" lengthAdjust="spacingAndGlyphs">10</text>
<text x="352.4" y="471.9" font-family="Liberation Sans" font-weight="bold" font-size="8.2" textLength="4.0" lengthAdjust="spacingAndGlyphs">4</text>
<text x="284.35" y="489.2" text-anchor="middle" font-family="Liberation Sans" font-weight="bold" font-size="9.6" textLength="42.5" lengthAdjust="spacingAndGlyphs">Perforin PE</text>
<text x="300.8" y="391" font-family="Liberation Serif" font-size="19">0%</text>
<path d="M222 459 232 457.5 238 453 243 447.5 247 440 250 428 252.6 417.1 256 399.8 258.6 382.6 260.3 365.3 262.6 359.2 264.3 361.8 265.5 377.4 267.3 398.1 269 417.1 270.7 434.4 271.9 444.8 275 451.7 278.5 456.9 282 459.8" fill="none" stroke="#111" stroke-width="1.25" stroke-linejoin="round"/>
<path d="M218.5 446.5 219.7 459.5 224.9 458.6 231.8 456.9 237 451.7 242.2 446.5 245.7 439.6 248.2 427.5 250 417.1 251.7 405 253.4 389.5 255.2 377.4 257.4 365.3 259.5 357.5 261.2 365.3 262.6 379.1 263.8 396.4 265 413.7 266.4 427.5 268.1 439.6 270.7 448.2 275 453.4 280.2 457.7 287.1 459.8 300 459.8" fill="none" stroke="#000" stroke-width="2.1" stroke-linejoin="round"/>
<line x1="382.3" y1="346.4" x2="513" y2="346.4" stroke="#000" stroke-width="1.4"/>
<line x1="513" y1="346.4" x2="513" y2="460.6" stroke="#000" stroke-width="1.3"/>
<line x1="382.3" y1="345.7" x2="382.3" y2="461.6" stroke="#000" stroke-width="1.5"/>
<line x1="381.5" y1="460.6" x2="513.7" y2="460.6" stroke="#000" stroke-width="1.8"/>
<path d="M378.3 460.6H382.3M380.1 453.02H382.3M380.1 445.44H382.3M380.1 437.86H382.3M380.1 430.28H382.3M378.3 422.7H382.3M380.1 415.12H382.3M380.1 407.54H382.3M380.1 399.96H382.3M380.1 392.38H382.3M378.3 384.8H382.3M380.1 377.22H382.3M380.1 369.64H382.3M380.1 362.06H382.3M380.1 354.48H382.3M378.3 346.9H382.3" stroke="#000" stroke-width="1.3" fill="none"/>
<text transform="translate(375.1,460.6) rotate(-90)" text-anchor="middle" font-family="Liberation Sans" font-weight="bold" font-size="9.2">0</text>
<text transform="translate(375.1,422.7) rotate(-90)" text-anchor="middle" font-family="Liberation Sans" font-weight="bold" font-size="9.2">5</text>
<text transform="translate(375.1,384.8) rotate(-90)" text-anchor="middle" font-family="Liberation Sans" font-weight="bold" font-size="9.2">10</text>
<text transform="translate(375.1,346.9) rotate(-90)" text-anchor="middle" font-family="Liberation Sans" font-weight="bold" font-size="9.2">15</text>
<text transform="translate(365.9,406.7) rotate(-90)" text-anchor="middle" font-family="Liberation Sans" font-weight="bold" font-size="9.4" textLength="32.0" lengthAdjust="spacingAndGlyphs">Counts</text>
<path d="M382.3 460.6V464.4M392.14 460.6V463.2M397.89 460.6V463.2M401.97 460.6V463.2M405.14 460.6V463.2M407.73 460.6V463.2M409.91 460.6V463.2M411.81 460.6V463.2M413.48 460.6V463.2M414.98 460.6V464.4M424.81 460.6V463.2M430.56 460.6V463.2M434.65 460.6V463.2M437.81 460.6V463.2M440.4 460.6V463.2M442.59 460.6V463.2M444.48 460.6V463.2M446.15 460.6V463.2M447.65 460.6V464.4M457.49 460.6V463.2M463.24 460.6V463.2M467.32 460.6V463.2M470.49 460.6V463.2M473.08 460.6V463.2M475.26 460.6V463.2M477.16 460.6V463.2M478.83 460.6V463.2M480.32 460.6V464.4M490.16 460.6V463.2M495.91 460.6V463.2M500 460.6V463.2M503.16 460.6V463.2M505.75 460.6V463.2M507.94 460.6V463.2M509.83 460.6V463.2M511.5 460.6V463.2M513 460.6V464.4" stroke="#000" stroke-width="1.3" fill="none"/>
<text x="385.5" y="478.4" text-anchor="end" font-family="Liberation Sans" font-weight="bold" font-size="10.2" textLength="9.0" lengthAdjust="spacingAndGlyphs">10</text>
<text x="385.5" y="471.9" font-family="Liberation Sans" font-weight="bold" font-size="8.2" textLength="4.0" lengthAdjust="spacingAndGlyphs">0</text>
<text x="418.18" y="478.4" text-anchor="end" font-family="Liberation Sans" font-weight="bold" font-size="10.2" textLength="9.0" lengthAdjust="spacingAndGlyphs">10</text>
<text x="418.18" y="471.9" font-family="Liberation Sans" font-weight="bold" font-size="8.2" textLength="4.0" lengthAdjust="spacingAndGlyphs">1</text>
<text x="450.55" y="478.4" text-anchor="end" font-family="Liberation Sans" font-weight="bold" font-size="10.2" textLength="9.0" lengthAdjust="spacingAndGlyphs">10</text>
<text x="450.55" y="471.9" font-family="Liberation Sans" font-weight="bold" font-size="8.2" textLength="4.0" lengthAdjust="spacingAndGlyphs">2</text>
<text x="482.22" y="478.4" text-anchor="end" font-family="Liberation Sans" font-weight="bold" font-size="10.2" textLength="9.0" lengthAdjust="spacingAndGlyphs">10</text>
<text x="482.22" y="471.9" font-family="Liberation Sans" font-weight="bold" font-size="8.2" textLength="4.0" lengthAdjust="spacingAndGlyphs">3</text>
<text x="514.4" y="478.4" text-anchor="end" font-family="Liberation Sans" font-weight="bold" font-size="10.2" textLength="9.0" lengthAdjust="spacingAndGlyphs">10</text>
<text x="514.4" y="471.9" font-family="Liberation Sans" font-weight="bold" font-size="8.2" textLength="4.0" lengthAdjust="spacingAndGlyphs">4</text>
<text x="447.65" y="489.2" text-anchor="middle" font-family="Liberation Sans" font-weight="bold" font-size="9.6" textLength="42.5" lengthAdjust="spacingAndGlyphs">Perforin PE</text>
<text x="462.3" y="391" font-family="Liberation Serif" font-size="19">0%</text>
<path d="M426.1 396.4 427.9 391.2 428.7 399.9 431 399 432.2 391.2 433 410 435.6 431 437.4 439.6 439.1 444 441.5 448.3 443 452 444.3 460" fill="none" stroke="#111" stroke-width="1.25" stroke-linejoin="round"/>
<path d="M407.1 460.3 408 451.8 408.8 444 411.4 444 411.4 437.9 413.2 437.9 413.2 429.3 414.9 429.3 414.9 417.2 416.6 417.2 416.6 399.9 418.3 399.9 418.3 382.6 420.1 382.6 420.1 368.8 420.9 368.8 420.9 354.9 422.7 354.9 422.7 372.2 423.5 372.2 424.7 380.9 426.1 396.4 428.7 399.9 429.6 406.8 431.3 417.2 433 427.5 435.6 431 437.4 439.6 439.1 444 440.8 448.3 441.7 458.7 442.6 460.3" fill="none" stroke="#000" stroke-width="2.6" stroke-linejoin="round"/>
<line x1="55.5" y1="510.6" x2="186.1" y2="510.6" stroke="#000" stroke-width="1.4"/>
<line x1="186.1" y1="510.6" x2="186.1" y2="627.6" stroke="#000" stroke-width="1.3"/>
<line x1="55.5" y1="509.9" x2="55.5" y2="628.6" stroke="#000" stroke-width="1.5"/>
<line x1="54.7" y1="627.6" x2="186.8" y2="627.6" stroke="#000" stroke-width="1.8"/>
<path d="M51.5 627.6H55.5M53.3 620.75H55.5M53.3 613.9H55.5M53.3 607.05H55.5M53.3 600.2H55.5M51.5 593.35H55.5M53.3 586.5H55.5M53.3 579.65H55.5M53.3 572.8H55.5M53.3 565.95H55.5M51.5 559.1H55.5M53.3 552.25H55.5M53.3 545.4H55.5M53.3 538.55H55.5M53.3 531.7H55.5M51.5 524.85H55.5M53.3 518H55.5M53.3 511.15H55.5" stroke="#000" stroke-width="1.3" fill="none"/>
<text transform="translate(48.3,627.6) rotate(-90)" text-anchor="middle" font-family="Liberation Sans" font-weight="bold" font-size="9.2">0</text>
<text transform="translate(48.3,593.35) rotate(-90)" text-anchor="middle" font-family="Liberation Sans" font-weight="bold" font-size="9.2">5</text>
<text transform="translate(48.3,559.1) rotate(-90)" text-anchor="middle" font-family="Liberation Sans" font-weight="bold" font-size="9.2">10</text>
<text transform="translate(48.3,524.85) rotate(-90)" text-anchor="middle" font-family="Liberation Sans" font-weight="bold" font-size="9.2">15</text>
<text transform="translate(39.1,573) rotate(-90)" text-anchor="middle" font-family="Liberation Sans" font-weight="bold" font-size="9.4" textLength="32.3" lengthAdjust="spacingAndGlyphs">Counts</text>
<path d="M55.5 627.6V631.4M65.33 627.6V630.2M71.08 627.6V630.2M75.16 627.6V630.2M78.32 627.6V630.2M80.91 627.6V630.2M83.09 627.6V630.2M84.99 627.6V630.2M86.66 627.6V630.2M88.15 627.6V631.4M97.98 627.6V630.2M103.73 627.6V630.2M107.81 627.6V630.2M110.97 627.6V630.2M113.56 627.6V630.2M115.74 627.6V630.2M117.64 627.6V630.2M119.31 627.6V630.2M120.8 627.6V631.4M130.63 627.6V630.2M136.38 627.6V630.2M140.46 627.6V630.2M143.62 627.6V630.2M146.21 627.6V630.2M148.39 627.6V630.2M150.29 627.6V630.2M151.96 627.6V630.2M153.45 627.6V631.4M163.28 627.6V630.2M169.03 627.6V630.2M173.11 627.6V630.2M176.27 627.6V630.2M178.86 627.6V630.2M181.04 627.6V630.2M182.94 627.6V630.2M184.61 627.6V630.2M186.1 627.6V631.4" stroke="#000" stroke-width="1.3" fill="none"/>
<text x="58.7" y="645.6" text-anchor="end" font-family="Liberation Sans" font-weight="bold" font-size="10.2" textLength="9.0" lengthAdjust="spacingAndGlyphs">10</text>
<text x="58.7" y="639.1" font-family="Liberation Sans" font-weight="bold" font-size="8.2" textLength="4.0" lengthAdjust="spacingAndGlyphs">0</text>
<text x="91.35" y="645.6" text-anchor="end" font-family="Liberation Sans" font-weight="bold" font-size="10.2" textLength="9.0" lengthAdjust="spacingAndGlyphs">10</text>
<text x="91.35" y="639.1" font-family="Liberation Sans" font-weight="bold" font-size="8.2" textLength="4.0" lengthAdjust="spacingAndGlyphs">1</text>
<text x="123.7" y="645.6" text-anchor="end" font-family="Liberation Sans" font-weight="bold" font-size="10.2" textLength="9.0" lengthAdjust="spacingAndGlyphs">10</text>
<text x="123.7" y="639.1" font-family="Liberation Sans" font-weight="bold" font-size="8.2" textLength="4.0" lengthAdjust="spacingAndGlyphs">2</text>
<text x="155.35" y="645.6" text-anchor="end" font-family="Liberation Sans" font-weight="bold" font-size="10.2" textLength="9.0" lengthAdjust="spacingAndGlyphs">10</text>
<text x="155.35" y="639.1" font-family="Liberation Sans" font-weight="bold" font-size="8.2" textLength="4.0" lengthAdjust="spacingAndGlyphs">3</text>
<text x="187.5" y="645.6" text-anchor="end" font-family="Liberation Sans" font-weight="bold" font-size="10.2" textLength="9.0" lengthAdjust="spacingAndGlyphs">10</text>
<text x="187.5" y="639.1" font-family="Liberation Sans" font-weight="bold" font-size="8.2" textLength="4.0" lengthAdjust="spacingAndGlyphs">4</text>
<text x="120.8" y="656.6" text-anchor="middle" font-family="Liberation Sans" font-weight="bold" font-size="9.6" textLength="41.5" lengthAdjust="spacingAndGlyphs">Perforin PE</text>
<text x="131.5" y="532" font-family="Liberation Serif" font-size="19">85%</text>
<path d="M88.9 627 89.35 627 89.35 616 90.7 616 90.7 626.5 92 626.5 92 612.6 95 612.6 95 610 98.5 610 98.5 595.1 99.85 595.1 99.85 584.7 100.55 584.7 100.55 598.6 101.4 598.6 101.4 577.7 102.6 577.7 102.6 572.5 103.75 572.5 103.75 537.7 104.95 537.7 104.95 563.9 106.45 563.9 106.45 551.6 108.1 551.6 108.1 550.8 109.7 550.8 109.7 563.9 111 563.9 111 588.3 112.25 588.3 112.25 570 113.8 570 113.8 522.9 115 522.9 115 563.9 115.65 563.9 115.65 597 116.75 597 116.75 611 118.2 611 118.2 550.8 119.2 550.8 119.2 611 120.1 611 120.1 611.3 121.25 611.3 121.25 590 122.5 590 122.5 597.5 123.45 597.5 123.45 612.5 124.3 612.5 124.3 595 125.2 595 125.2 578.8 126.25 578.8 126.25 598.8 127.35 598.8 127.35 588.8 128.3 588.8 128.3 565 129.3 565 129.3 582.5 130.2 582.5 130.2 572.5 131.25 572.5 131.25 611.3 132.5 611.3 132.5 582.5 133.55 582.5 133.55 560 134.4 560 134.4 581.3 135.4 581.3 135.4 590 136.65 590 136.65 598.8 137.9 598.8 137.9 590 139.15 590 139.15 598.8 140.2 598.8 140.2 578.8 141.25 578.8 141.25 598.8 142.35 598.8 142.35 580 143.3 580 143.3 565 144.3 565 144.3 598.8 145.85 598.8 145.85 600 147.5 600 147.5 605 148.55 605 148.55 611.3 149.4 611.3 149.4 578.8 150.2 578.8 150.2 596.3 151.05 596.3 151.05 602.5 151.9 602.5 151.9 611.3 152.9 611.3 152.9 607.5 153.95 607.5 153.95 611.3 155 611.3 155 600 156.05 600 156.05 606.3 156.9 606.3 156.9 625 157.7 625 157.7 612.5 158.55 612.5 158.55 625 159.65 625 159.65 598.8 160.8 598.8 160.8 612.5 161.9 612.5 161.9 615 162.8 615 162.8 625 163.45 625 163.45 627 163.8 627" fill="none" stroke="#333" stroke-width="1.1" stroke-linejoin="round"/>
<path d="M84 627 84.3 627 84.3 619.5 84.95 619.5 84.95 627 85.8 627 85.8 627 87.2 627 87.2 617.8 88.95 617.8 88.95 609.1 90.7 609.1 90.7 600.4 92 600.4 92 591.7 93.1 591.7 93.1 581.2 94.4 581.2 94.4 574.2 95.3 574.2 95.3 558.6 96.2 558.6 96.2 556.8 97.2 556.8 97.2 555.1 98.05 555.1 98.05 541.1 98.95 541.1 98.95 537.6 99.85 537.6 99.85 523.7 100.7 523.7 100.7 541.1 101.3 541.1 101.3 563.8 101.75 563.8 101.75 584.7 102.45 584.7 102.45 598.6 103.3 598.6 103.3 612.6 104.6 612.6 104.6 619.5 106.35 619.5 106.35 624.8 107.8 624.8 107.8 627 108.4 627" fill="none" stroke="#000" stroke-width="2.1" stroke-linejoin="round"/>
<path d="M95.1 557 99.5 557 99.5 574 97.2 579 95.1 575" fill="#000" stroke="none"/>
<line x1="212" y1="505.8" x2="332" y2="505.8" stroke="#000" stroke-width="1.4"/>
<line x1="332" y1="505.8" x2="332" y2="541.4" stroke="#000" stroke-width="1.3"/>
<line x1="332" y1="575.5" x2="332" y2="625.7" stroke="#000" stroke-width="1.3"/>
<line x1="212" y1="505.1" x2="212" y2="626.7" stroke="#000" stroke-width="1.5"/>
<line x1="211.2" y1="625.7" x2="332.7" y2="625.7" stroke="#000" stroke-width="1.8"/>
<path d="M208 625.7H212M209.8 622.12H212M209.8 618.53H212M209.8 614.95H212M209.8 611.37H212M209.8 607.78H212M208 604.2H212M209.8 600.62H212M209.8 597.03H212M209.8 593.45H212M209.8 589.87H212M209.8 586.28H212M208 582.7H212M209.8 579.12H212M209.8 575.53H212M209.8 571.95H212M209.8 568.37H212M209.8 564.78H212M208 561.2H212M209.8 557.62H212M209.8 554.03H212M209.8 550.45H212M209.8 546.87H212M209.8 543.28H212M208 539.7H212M209.8 536.12H212M209.8 532.53H212M209.8 528.95H212M209.8 525.37H212M209.8 521.78H212M208 518.2H212M209.8 514.62H212M209.8 511.03H212M209.8 507.45H212" stroke="#000" stroke-width="1.3" fill="none"/>
<text transform="translate(204.8,625.7) rotate(-90)" text-anchor="middle" font-family="Liberation Sans" font-weight="bold" font-size="9.2">0</text>
<text transform="translate(204.8,604.2) rotate(-90)" text-anchor="middle" font-family="Liberation Sans" font-weight="bold" font-size="9.2">20</text>
<text transform="translate(204.8,582.7) rotate(-90)" text-anchor="middle" font-family="Liberation Sans" font-weight="bold" font-size="9.2">40</text>
<text transform="translate(204.8,561.2) rotate(-90)" text-anchor="middle" font-family="Liberation Sans" font-weight="bold" font-size="9.2">60</text>
<text transform="translate(204.8,539.7) rotate(-90)" text-anchor="middle" font-family="Liberation Sans" font-weight="bold" font-size="9.2">80</text>
<text transform="translate(204.8,518.2) rotate(-90)" text-anchor="middle" font-family="Liberation Sans" font-weight="bold" font-size="9.2">100</text>
<text transform="translate(197.4,569.65) rotate(-90)" text-anchor="middle" font-family="Liberation Sans" font-weight="bold" font-size="9.4" textLength="32.3" lengthAdjust="spacingAndGlyphs">Counts</text>
<path d="M212 625.7V629.5M221.03 625.7V628.3M226.31 625.7V628.3M230.06 625.7V628.3M232.97 625.7V628.3M235.34 625.7V628.3M237.35 625.7V628.3M239.09 625.7V628.3M240.63 625.7V628.3M242 625.7V629.5M251.03 625.7V628.3M256.31 625.7V628.3M260.06 625.7V628.3M262.97 625.7V628.3M265.34 625.7V628.3M267.35 625.7V628.3M269.09 625.7V628.3M270.63 625.7V628.3M272 625.7V629.5M281.03 625.7V628.3M286.31 625.7V628.3M290.06 625.7V628.3M292.97 625.7V628.3M295.34 625.7V628.3M297.35 625.7V628.3M299.09 625.7V628.3M300.63 625.7V628.3M302 625.7V629.5M311.03 625.7V628.3M316.31 625.7V628.3M320.06 625.7V628.3M322.97 625.7V628.3M325.34 625.7V628.3M327.35 625.7V628.3M329.09 625.7V628.3M330.63 625.7V628.3M332 625.7V629.5" stroke="#000" stroke-width="1.3" fill="none"/>
<text x="215.2" y="643.7" text-anchor="end" font-family="Liberation Sans" font-weight="bold" font-size="10.2" textLength="9.0" lengthAdjust="spacingAndGlyphs">10</text>
<text x="215.2" y="637.2" font-family="Liberation Sans" font-weight="bold" font-size="8.2" textLength="4.0" lengthAdjust="spacingAndGlyphs">0</text>
<text x="245.2" y="643.7" text-anchor="end" font-family="Liberation Sans" font-weight="bold" font-size="10.2" textLength="9.0" lengthAdjust="spacingAndGlyphs">10</text>
<text x="245.2" y="637.2" font-family="Liberation Sans" font-weight="bold" font-size="8.2" textLength="4.0" lengthAdjust="spacingAndGlyphs">1</text>
<text x="274.9" y="643.7" text-anchor="end" font-family="Liberation Sans" font-weight="bold" font-size="10.2" textLength="9.0" lengthAdjust="spacingAndGlyphs">10</text>
<text x="274.9" y="637.2" font-family="Liberation Sans" font-weight="bold" font-size="8.2" textLength="4.0" lengthAdjust="spacingAndGlyphs">2</text>
<text x="303.9" y="643.7" text-anchor="end" font-family="Liberation Sans" font-weight="bold" font-size="10.2" textLength="9.0" lengthAdjust="spacingAndGlyphs">10</text>
<text x="303.9" y="637.2" font-family="Liberation Sans" font-weight="bold" font-size="8.2" textLength="4.0" lengthAdjust="spacingAndGlyphs">3</text>
<text x="333.4" y="643.7" text-anchor="end" font-family="Liberation Sans" font-weight="bold" font-size="10.2" textLength="9.0" lengthAdjust="spacingAndGlyphs">10</text>
<text x="333.4" y="637.2" font-family="Liberation Sans" font-weight="bold" font-size="8.2" textLength="4.0" lengthAdjust="spacingAndGlyphs">4</text>
<text x="272" y="654.7" text-anchor="middle" font-family="Liberation Sans" font-weight="bold" font-size="9.6" textLength="41.5" lengthAdjust="spacingAndGlyphs">Perforin PE</text>
<text x="283.8" y="562.7" font-family="Liberation Serif" font-size="19">66%</text>
<path d="M233.5 622.8 238 617.5 241.6 613.9 244.2 599.6 246 581.6 247.8 592.4 249.6 585.2 251.4 570.9 252.8 560.2 254.1 549.4 254.6 536.9 255.9 544 257.1 535.1 258.2 545.8 259.5 531.5 260.7 524.3 261.8 544 263 536.9 263.8 545.8 265.6 556.5 267.4 538.6 268.8 535.1 270.1 551.2 271.8 569.1" fill="none" stroke="#111" stroke-width="1.25" stroke-linejoin="round"/>
<path d="M279 576.2 280.8 590.6 282 594.1 283.5 595.9 285.3 608.5 287.1 606.7 288.9 617.4 291.5 622.8 293.3 621.9 296 622.8 298.7 621.9 300.5 625" fill="none" stroke="#111" stroke-width="1.25" stroke-linejoin="round"/>
<path d="M214 625 221 625 231.7 624.6 235.3 621 238.9 613.9 241.6 604.9 243.3 594.2 244.8 581.6 246 563.7 246.9 538.7 248.7 536.9 250 527.9 251 518.1 251.8 535.1 252.8 540.4 253.6 558.4 254.6 578.1 255.9 596 257.1 610.3 258.9 621 261.3 624.6 265.7 625" fill="none" stroke="#000" stroke-width="2.1" stroke-linejoin="round"/>
<line x1="376.3" y1="509.6" x2="504.8" y2="509.6" stroke="#000" stroke-width="1.4"/>
<line x1="504.8" y1="509.6" x2="504.8" y2="625.6" stroke="#000" stroke-width="1.3"/>
<line x1="376.3" y1="508.9" x2="376.3" y2="626.6" stroke="#000" stroke-width="1.5"/>
<line x1="375.5" y1="625.6" x2="505.5" y2="625.6" stroke="#000" stroke-width="1.8"/>
<path d="M372.3 625.6H376.3M374.1 619.8H376.3M374.1 614H376.3M374.1 608.2H376.3M374.1 602.4H376.3M372.3 596.6H376.3M374.1 590.8H376.3M374.1 585H376.3M374.1 579.2H376.3M374.1 573.4H376.3M372.3 567.6H376.3M374.1 561.8H376.3M374.1 556H376.3M374.1 550.2H376.3M374.1 544.4H376.3M372.3 538.6H376.3M374.1 532.8H376.3M374.1 527H376.3M374.1 521.2H376.3M374.1 515.4H376.3M372.3 509.6H376.3" stroke="#000" stroke-width="1.3" fill="none"/>
<text transform="translate(369.1,625.6) rotate(-90)" text-anchor="middle" font-family="Liberation Sans" font-weight="bold" font-size="9.2">0</text>
<text transform="translate(369.1,596.6) rotate(-90)" text-anchor="middle" font-family="Liberation Sans" font-weight="bold" font-size="9.2">10</text>
<text transform="translate(369.1,567.6) rotate(-90)" text-anchor="middle" font-family="Liberation Sans" font-weight="bold" font-size="9.2">20</text>
<text transform="translate(369.1,538.6) rotate(-90)" text-anchor="middle" font-family="Liberation Sans" font-weight="bold" font-size="9.2">30</text>
<text transform="translate(369.1,509.6) rotate(-90)" text-anchor="middle" font-family="Liberation Sans" font-weight="bold" font-size="9.2">40</text>
<text transform="translate(359.9,571.5) rotate(-90)" text-anchor="middle" font-family="Liberation Sans" font-weight="bold" font-size="9.4" textLength="32.3" lengthAdjust="spacingAndGlyphs">Counts</text>
<path d="M376.3 625.6V629.4M385.97 625.6V628.2M391.63 625.6V628.2M395.64 625.6V628.2M398.75 625.6V628.2M401.3 625.6V628.2M403.45 625.6V628.2M405.31 625.6V628.2M406.96 625.6V628.2M408.43 625.6V629.4M418.1 625.6V628.2M423.75 625.6V628.2M427.77 625.6V628.2M430.88 625.6V628.2M433.42 625.6V628.2M435.57 625.6V628.2M437.44 625.6V628.2M439.08 625.6V628.2M440.55 625.6V629.4M450.22 625.6V628.2M455.88 625.6V628.2M459.89 625.6V628.2M463 625.6V628.2M465.55 625.6V628.2M467.7 625.6V628.2M469.56 625.6V628.2M471.21 625.6V628.2M472.68 625.6V629.4M482.35 625.6V628.2M488 625.6V628.2M492.02 625.6V628.2M495.13 625.6V628.2M497.67 625.6V628.2M499.82 625.6V628.2M501.69 625.6V628.2M503.33 625.6V628.2M504.8 625.6V629.4" stroke="#000" stroke-width="1.3" fill="none"/>
<text x="379.5" y="643.6" text-anchor="end" font-family="Liberation Sans" font-weight="bold" font-size="10.2" textLength="9.0" lengthAdjust="spacingAndGlyphs">10</text>
<text x="379.5" y="637.1" font-family="Liberation Sans" font-weight="bold" font-size="8.2" textLength="4.0" lengthAdjust="spacingAndGlyphs">0</text>
<text x="411.62" y="643.6" text-anchor="end" font-family="Liberation Sans" font-weight="bold" font-size="10.2" textLength="9.0" lengthAdjust="spacingAndGlyphs">10</text>
<text x="411.62" y="637.1" font-family="Liberation Sans" font-weight="bold" font-size="8.2" textLength="4.0" lengthAdjust="spacingAndGlyphs">1</text>
<text x="443.45" y="643.6" text-anchor="end" font-family="Liberation Sans" font-weight="bold" font-size="10.2" textLength="9.0" lengthAdjust="spacingAndGlyphs">10</text>
<text x="443.45" y="637.1" font-family="Liberation Sans" font-weight="bold" font-size="8.2" textLength="4.0" lengthAdjust="spacingAndGlyphs">2</text>
<text x="474.57" y="643.6" text-anchor="end" font-family="Liberation Sans" font-weight="bold" font-size="10.2" textLength="9.0" lengthAdjust="spacingAndGlyphs">10</text>
<text x="474.57" y="637.1" font-family="Liberation Sans" font-weight="bold" font-size="8.2" textLength="4.0" lengthAdjust="spacingAndGlyphs">3</text>
<text x="506.2" y="643.6" text-anchor="end" font-family="Liberation Sans" font-weight="bold" font-size="10.2" textLength="9.0" lengthAdjust="spacingAndGlyphs">10</text>
<text x="506.2" y="637.1" font-family="Liberation Sans" font-weight="bold" font-size="8.2" textLength="4.0" lengthAdjust="spacingAndGlyphs">4</text>
<text x="440.55" y="654.6" text-anchor="middle" font-family="Liberation Sans" font-weight="bold" font-size="9.6" textLength="41.5" lengthAdjust="spacingAndGlyphs">Perforin PE</text>
<text x="448.3" y="532.5" font-family="Liberation Serif" font-size="19">76%</text>
<path d="M410.3 625 412.9 617.9 416.3 616.2 418.5 611.1 420.3 600.8 421.5 590.5 422.3 573.3 423.2 559.6 424 545.9 424.9 533.9 425.7 521.9 426.6 540.7 427.5 551 429.2 552.7 430.5 566.5 432.3 556.2 433.5 569.9 435.2 580.2 436.9 587 438 588.5 439.4 589.8 440.7 604.6 441.7 592.5 443.4 595.2 444.7 589.8 446.1 586.4 447.4 592.5 448.8 603.3 450.5 601.9 452.2 606 453.2 610 454.8 607.3 456.2 614 457.5 619.4 459.1 621.4 460.9 619.4 462.2 621.4 463.6 622.1 464.9 625" fill="none" stroke="#111" stroke-width="1.25" stroke-linejoin="round"/>
<path d="M392 625 393.2 621.3 394.2 625 398.3 625 400 618.8 403.4 617.9 406 615.3 407.7 611.1 409.4 604.2 411.2 590.5 412.9 578.5 414.6 563 416.3 545.9 418 532.2 419.2 521.9 420.3 525.3 420.9 539 422 552.7 422.8 566.5 423.7 580.2 424.5 593.9 425.7 607.6 427.1 617.9 429.2 623.9 430.9 622.2 432.6 625" fill="none" stroke="#000" stroke-width="2.1" stroke-linejoin="round"/>
<rect x="187.6" y="629.5" width="7" height="9" fill="#fff"/>
<rect x="95.2" y="333.6" width="52" height="9" fill="#fff"/>
<rect x="257.6" y="331.8" width="52" height="9" fill="#fff"/>
<rect x="419.5" y="331.9" width="52" height="9" fill="#fff"/>
</svg>
</body></html>
